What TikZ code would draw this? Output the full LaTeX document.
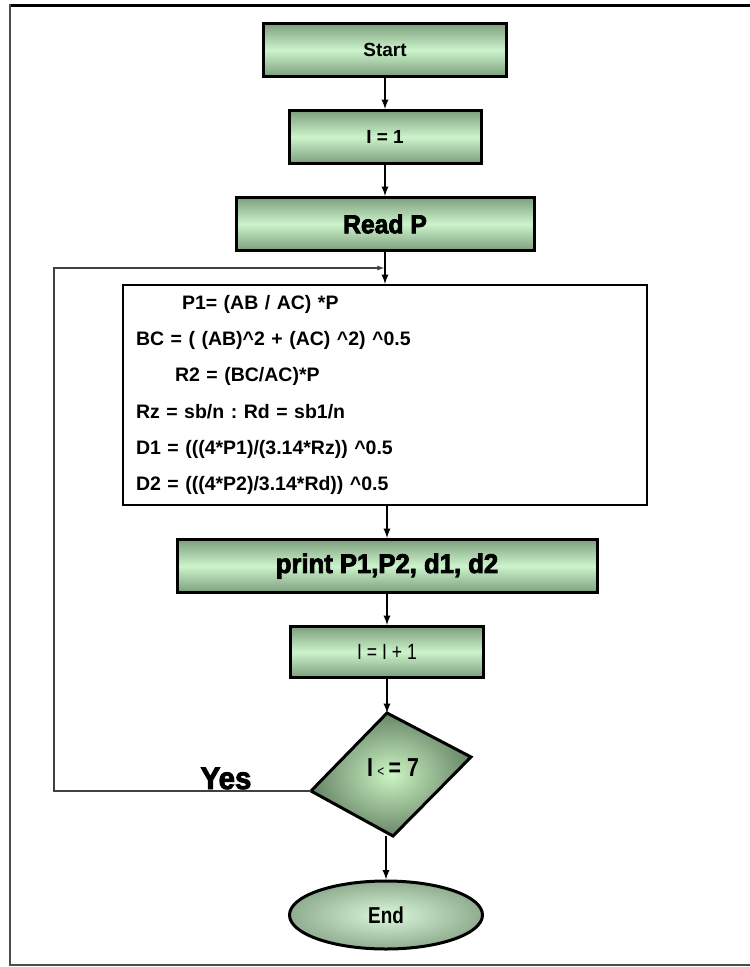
\documentclass[tikz,border=0pt]{standalone}
\usepackage{fontspec}
\setmainfont{Liberation Sans}
\newfontfamily\heavyfont[FakeBold=3,FakeStretch=0.95]{Liberation Sans Bold}
\newfontfamily\narrowfont[FakeStretch=0.82]{Liberation Sans Bold}
\newfontfamily\narrowlight[FakeStretch=0.8]{Liberation Sans}
\usepackage{tikz}
\usetikzlibrary{calc,shapes,arrows}
\definecolor{boxedge}{RGB}{124,158,124}
\definecolor{boxmid}{RGB}{204,244,204}
\definecolor{dmdedge}{RGB}{104,134,104}
\definecolor{dmdmid}{RGB}{204,244,194}
\tikzset{
    flowbox/.style={draw, line width=3pt, top color=boxedge, bottom color=boxedge,
        middle color=boxmid, minimum height=53pt, inner sep=0pt},
    flowline/.style={line width=2.2pt, -latex},
}
\frenchspacing

\begin{document}
\begin{tikzpicture}[x=1pt,y=-1pt]
        \useasboundingbox (0,0) rectangle (750,967);
        \draw[line width=3pt] (750,5) -- (9,5);
        \draw[line width=2pt, black!70] (10,4) -- (10,965) -- (750,965);
        \node[flowbox, minimum width=243pt, font=\fontsize{19}{22}\selectfont\bfseries] (start) at (385,50) {Start};
        \node[flowbox, minimum width=192pt, font=\fontsize{19}{22}\selectfont\bfseries] (one) at (385,137) {I = 1};
        \node[flowbox, minimum width=298pt, font=\heavyfont\fontsize{26}{28}\selectfont] (readp) at (385,224) {Read P};
        \node[draw, line width=2pt, fill=white, minimum width=524pt, minimum height=220pt,
            text width=498pt, inner xsep=13pt, align=left,
            font=\fontsize{19.5}{36.3}\selectfont\bfseries] (proc) at (385,395)
            {\hspace*{46pt}P1= (AB / AC) *P\\
            BC = ( (AB)\textasciicircum2 + (AC) \textasciicircum2) \textasciicircum0.5\\
            \hspace*{39pt}R2 = (BC/AC)*P\\
            Rz = sb/n : Rd = sb1/n\\
            D1 = (((4*P1)/(3.14*Rz)) \textasciicircum0.5\\
            D2 = (((4*P2)/3.14*Rd)) \textasciicircum0.5};
        \node[flowbox, minimum width=420pt, font=\heavyfont\fontsize{27}{29}\selectfont] (print) at (387,566) {print P1,P2, d1, d2};
        \node[flowbox, minimum width=193pt, minimum height=51pt, font=\narrowlight\fontsize{22}{24}\selectfont] (inc) at (387,652) {I = I + 1};
        \coordinate (dtop) at (387,713);
        \coordinate (dright) at (471,757);
        \coordinate (dbot) at (393,836);
        \coordinate (dleft) at (311,791);
        \draw[line width=3pt, inner color=dmdmid, outer color=dmdedge] (dtop) -- (dright) -- (dbot) -- (dleft) -- cycle;
        \node[font=\narrowfont\fontsize{26}{28}\selectfont, anchor=base] (cond) at (393,776)
            {I\,{\narrowlight\fontsize{15}{16}\selectfont<}\,= 7};
        \node[ellipse, draw, line width=3pt, inner color=boxmid!70!white, outer color=boxedge!85!white,
            minimum width=193pt, minimum height=68pt, font=\narrowfont\fontsize{23}{25}\selectfont] (end) at (386,915) {End};
        \node[font=\heavyfont\fontsize{31}{33}\selectfont, anchor=base] (yes) at (226,789) {Yes};
        \coordinate (loopcorner) at (54,791);
        \coordinate (loopend) at (384,268);
        \draw[flowline] (start) -- (one);
        \draw[flowline] (one) -- (readp);
        \draw[flowline] (readp) -- (proc);
        \draw[flowline] (proc.south -| print) -- (print);
        \draw[flowline] (print) -- (inc);
        \draw[flowline] (inc) -- (dtop);
        \draw[flowline] (dbot -| end) -- (end);
        \draw[line width=1.3pt, black!75, -latex] (dleft) -- (loopcorner) |- (loopend);
    \end{tikzpicture}
\end{document}
